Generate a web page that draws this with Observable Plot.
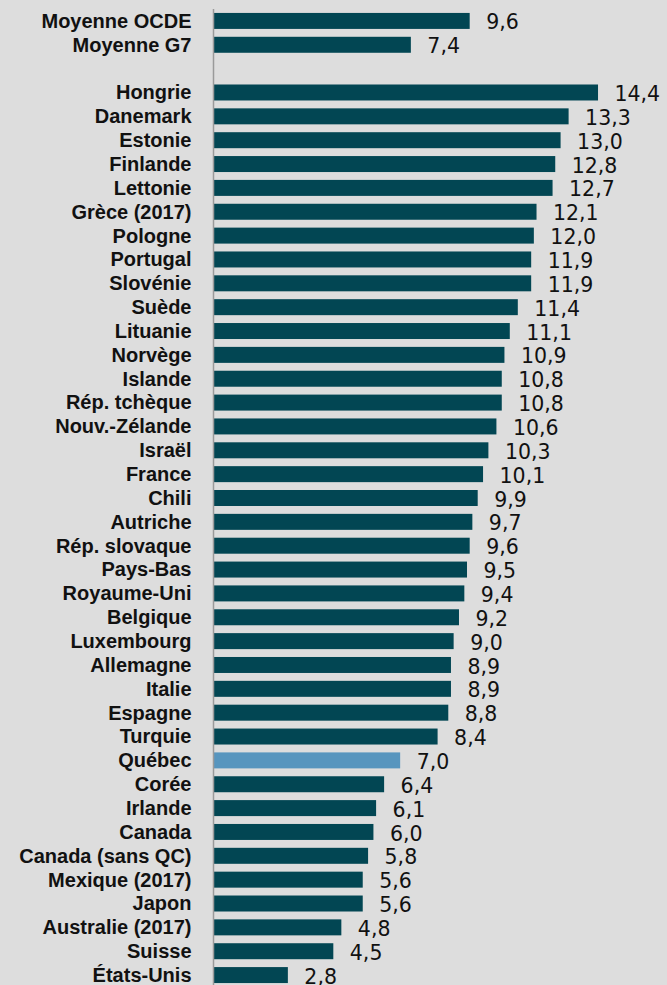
<!DOCTYPE html>
<html>
<head>
<meta charset="utf-8">
<script src="https://cdn.jsdelivr.net/npm/d3@7"></script>
<script src="https://cdn.jsdelivr.net/npm/@observablehq/plot@0.6"></script>
<style>
  html, body { margin: 0; padding: 0; background: #dddddd; overflow: hidden; }
  #chart svg { display: block; }
</style>
</head>
<body>
<div id="chart"></div>
<script>
const categories = [
  "Moyenne OCDE", "Moyenne G7", "__gap__",
  "Hongrie", "Danemark", "Estonie", "Finlande", "Lettonie", "Grèce (2017)",
  "Pologne", "Portugal", "Slovénie", "Suède", "Lituanie", "Norvège", "Islande",
  "Rép. tchèque", "Nouv.-Zélande", "Israël", "France", "Chili", "Autriche",
  "Rép. slovaque", "Pays-Bas", "Royaume-Uni", "Belgique", "Luxembourg",
  "Allemagne", "Italie", "Espagne", "Turquie", "Québec", "Corée", "Irlande",
  "Canada", "Canada (sans QC)", "Mexique (2017)", "Japon", "Australie (2017)",
  "Suisse", "États-Unis"
];
const values = [
  9.6, 7.4, null,
  14.4, 13.3, 13.0, 12.8, 12.7, 12.1,
  12.0, 11.9, 11.9, 11.4, 11.1, 10.9, 10.8,
  10.8, 10.6, 10.3, 10.1, 9.9, 9.7,
  9.6, 9.5, 9.4, 9.2, 9.0,
  8.9, 8.9, 8.8, 8.4, 7.0, 6.4, 6.1,
  6.0, 5.8, 5.6, 5.6, 4.8,
  4.5, 2.8
];
const highlighted = ["Québec"];

const data = categories.map((c, i) => ({name: c, value: values[i]})).filter(d => d.value != null);
const fmt = v => v.toFixed(1).replace(".", ",");

const chart = Plot.plot({
  width: 667,
  height: 985,
  marginLeft: 213,
  marginRight: 0,
  marginTop: 9,
  marginBottom: -2,
  style: {background: "#dddddd", fontFamily: "'Liberation Sans', Arial, sans-serif", color: "#111"},
  x: {domain: [0, 16.98], axis: null},
  y: {domain: categories, paddingInner: 0.33, paddingOuter: 0.165, axis: null},
  color: {domain: [false, true], range: ["#024653", "#5795be"]},
  marks: [
    Plot.barX(data, {y: "name", x: "value", fill: d => highlighted.includes(d.name)}),
    Plot.ruleX([0], {stroke: "#9a9a9a", strokeWidth: 1.5}),
    Plot.axisY({
      label: null,
      tickSize: 0,
      tickPadding: 22,
      fontSize: 20,
      fontWeight: "bold",
      fill: "#111",
      tickFormat: d => d === "__gap__" ? "" : d
    }),
    Plot.text(data, {
      y: "name", x: "value", text: d => fmt(d.value),
      textAnchor: "start", dx: 16, dy: 1.5, fontSize: 20.5,
      fontFamily: "'DejaVu Sans', sans-serif", fill: "#111"
    })
  ]
});
document.getElementById("chart").appendChild(chart);
</script>
</body>
</html>
